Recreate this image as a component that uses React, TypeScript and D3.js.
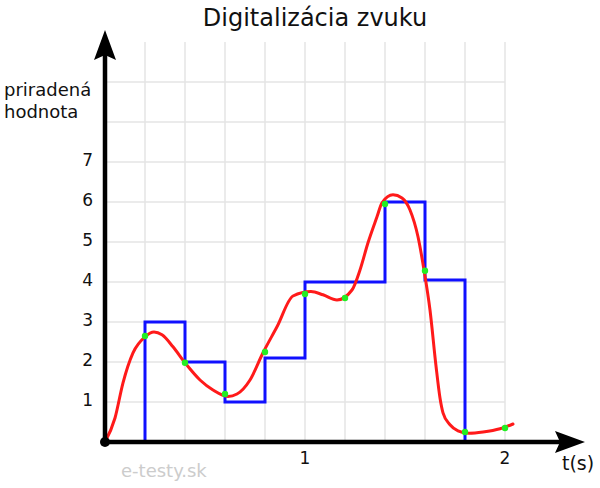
import React from "react";
import * as d3 from "d3";

// analog signal: [t (s), value]
const curveT = [0, 0.05, 0.09, 0.14, 0.2, 0.245, 0.285, 0.34, 0.4, 0.475, 0.54, 0.615, 0.66, 0.725, 0.79, 0.86, 0.94, 1.03, 1.09, 1.16, 1.235, 1.275, 1.315, 1.36, 1.385, 1.44, 1.485, 1.525, 1.565, 1.595, 1.625, 1.655, 1.675, 1.69, 1.725, 1.765, 1.82, 1.89, 1.975, 2.04];
const curveV = [0, 0.6, 1.48, 2.23, 2.63, 2.75, 2.68, 2.38, 1.98, 1.55, 1.3, 1.14, 1.2, 1.55, 2.23, 2.88, 3.65, 3.76, 3.68, 3.55, 3.8, 4.3, 4.98, 5.63, 5.98, 6.18, 6.1, 5.8, 5.13, 4.3, 3.3, 1.9, 1.1, 0.73, 0.43, 0.28, 0.22, 0.25, 0.33, 0.45];

// sampled points
const sampleT = [0.2, 0.4, 0.6, 0.8, 1.0, 1.2, 1.4, 1.6, 1.8, 2.0];
const sampleV = [2.65, 1.98, 1.2, 2.25, 3.7, 3.6, 5.95, 4.28, 0.25, 0.35];

// quantized steps (start of interval, assigned value)
const stepStart = [0.2, 0.4, 0.6, 0.8, 1.0, 1.2, 1.4, 1.6];
const stepValue = [3, 2, 1, 2.1, 4, 4, 6, 4.05];
const stepEnd = 1.8;

const yTicks = [1, 2, 3, 4, 5, 6, 7];
const xTicks = [1, 2];
const xGrid = [0.2, 0.4, 0.6, 0.8, 1.0, 1.2, 1.4, 1.6, 1.8, 2.0];
const yGrid = [1, 2, 3, 4, 5, 6, 7, 8, 9];

const FONT = "DejaVu Sans, Verdana, sans-serif";

export default function App() {
  const W = 600, H = 488;
  const x = d3.scaleLinear().domain([0, 2]).range([105, 505]);
  const y = d3.scaleLinear().domain([0, 10]).range([442, 42]);

  const curvePts: [number, number][] = curveT.map((t, i) => [x(t), y(curveV[i])]);
  const curvePath = d3.line().curve(d3.curveMonotoneX)(curvePts) || "";

  const stepPts: [number, number][] = [[x(stepStart[0]), y(0)]];
  stepStart.forEach((s, i) => {
    const e = i < stepStart.length - 1 ? stepStart[i + 1] : stepEnd;
    stepPts.push([x(s), y(stepValue[i])]);
    stepPts.push([x(e), y(stepValue[i])]);
  });
  stepPts.push([x(stepEnd), y(0)]);
  const stepPath = d3.line()(stepPts) || "";

  const ox = x(0), oy = y(0);

  return (
    <svg width={W} height={H} style={{ position: "absolute", left: 0, top: 0, background: "#fff" }} fontFamily={FONT}>
      <rect width={W} height={H} fill="#fff" />
      <text x={315} y={26} textAnchor="middle" fontSize={24} fill="#111">Digitalizácia zvuku</text>

      {xGrid.map((t) => (
        <line key={"gx" + t} x1={x(t)} x2={x(t)} y1={y(10)} y2={y(0)} stroke="#e4e4e4" strokeWidth={1.5} />
      ))}
      {yGrid.map((v) => (
        <line key={"gy" + v} x1={x(0)} x2={x(2)} y1={y(v)} y2={y(v)} stroke="#e4e4e4" strokeWidth={1.5} />
      ))}

      <path d={stepPath} fill="none" stroke="#1010ff" strokeWidth={3} strokeLinejoin="miter" />
      <path d={curvePath} fill="none" stroke="#ff1a1a" strokeWidth={3} strokeLinecap="round" />
      {sampleT.map((t, i) => (
        <circle key={"s" + t} cx={x(t)} cy={y(sampleV[i])} r={3.2} fill="#22ee22" />
      ))}

      {/* axes */}
      <line x1={ox} x2={ox} y1={oy} y2={52} stroke="#000" strokeWidth={4.5} />
      <line x1={ox} x2={562} y1={oy} y2={oy} stroke="#000" strokeWidth={4.5} />
      <path d={`M${ox},30 L${ox + 11},60 L${ox},55 L${ox - 11},60 Z`} fill="#000" />
      <path d={`M585,${oy} L555,${oy - 11} L560,${oy} L555,${oy + 11} Z`} fill="#000" />
      <circle cx={ox} cy={oy} r={5} fill="#000" />

      {yTicks.map((v) => (
        <text key={"yt" + v} x={93} y={y(v) + 4} textAnchor="end" fontSize={17} fill="#111">{v}</text>
      ))}
      {xTicks.map((t) => (
        <text key={"xt" + t} x={x(t)} y={464} textAnchor="middle" fontSize={17} fill="#111">{t}</text>
      ))}
      <text x={4} y={96} fontSize={18} fill="#111">priradená</text>
      <text x={4} y={118} fontSize={18} fill="#111">hodnota</text>
      <text x={562} y={470} fontSize={19} fill="#111">t(s)</text>
      <text x={121} y={477} fontSize={18} fill="#cccccc">e-testy.sk</text>
    </svg>
  );
}
